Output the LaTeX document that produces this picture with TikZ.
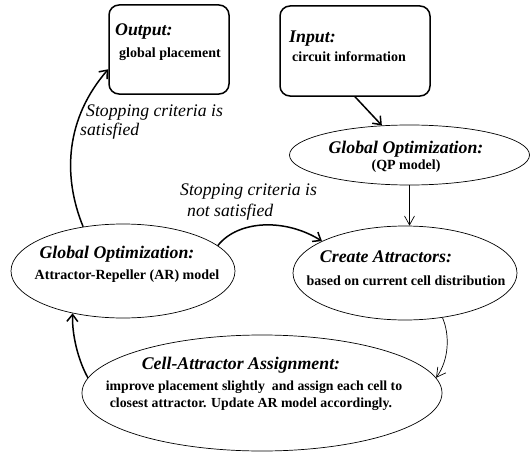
\documentclass[tikz,border=0pt]{standalone}
\usepackage{fontspec}
\setmainfont{Liberation Serif}
\usetikzlibrary{shapes.geometric,arrows.meta}
\begin{document}
\begin{tikzpicture}[x=1pt,y=-1pt,
 box/.style={draw,line width=1.5pt,rounded corners=10pt,inner sep=0},
 ell/.style={draw,ellipse,line width=0.7pt,inner sep=0},
 ttl/.style={font=\bfseries\itshape\fontsize{17.8}{19}\selectfont,inner sep=0},
 txt/.style={font=\bfseries\fontsize{14}{16}\selectfont,inner sep=0},
 celltxt/.style={font=\bfseries\fontsize{13.8}{15}\selectfont,inner sep=0},
 lbl/.style={font=\itshape\fontsize{17.7}{19}\selectfont,inner sep=0,align=left},
 bigarrow/.style={line width=1.5pt,-{Straight Barb[length=7pt,width=11pt,line width=1.5pt]}},
 smallarrow/.style={line width=0.7pt,-{Straight Barb[length=9pt,width=10pt,line width=0.7pt]}}]
\useasboundingbox (0,0) rectangle (530,452);
% boxes
\node[box,minimum width=120,minimum height=89] (out) at (169,49.5) {};
\node[box,minimum width=150,minimum height=90] (inp) at (355,51) {};
% ellipses
\node[ell,minimum width=240,minimum height=60] (qp) at (409.5,155) {};
\node[ell,minimum width=224,minimum height=94] (ca) at (405,273) {};
\node[ell,minimum width=224,minimum height=94] (ar) at (123,271) {};
\node[ell,minimum width=360,minimum height=116] (cell) at (262,393) {};
% texts
\node[ttl,anchor=west] (outT) at (115,32) {Output:};
\node[txt,anchor=west] (outB) at (119,54) {global placement};
\node[ttl,anchor=west] (inpT) at (289,39) {Input:};
\node[txt,anchor=west] (inpB) at (292,57) {circuit information};
\node[ttl] (qpT) at (406,149) {Global Optimization:};
\node[txt] (qpB) at (406,166) {(QP model)};
\node[ttl] (caT) at (386,257) {Create Attractors:};
\node[txt] (caB) at (406,281) {based on current cell distribution};
\node[ttl] (arT) at (117,254) {Global Optimization:};
\node[txt] (arB) at (127,276) {Attractor-Repeller (AR) model};
\node[ttl] (cellT) at (241,365) {Cell-Attractor Assignment:};
\node[celltxt] (cellB1) at (254,387) {improve placement slightly\ \ and assign each cell to};
\node[celltxt] (cellB2) at (251,404) {closest attractor. Update AR model accordingly.};
% labels
\node[lbl,anchor=west] (l1a) at (86,113) {Stopping criteria is};
\node[lbl,anchor=west] (l1b) at (80,131) {satisfied};
\node[lbl,anchor=west] (l2a) at (180,192) {Stopping criteria is};
\node[lbl,anchor=west] (l2b) at (187,212) {not satisfied};
% connectors
\draw[bigarrow] (inp.south) -- (qp);
\draw[smallarrow] (qp.south) -- (qp.south |- ca.north);
\draw[bigarrow] (ar.132) .. controls (62,175) and (66,118) .. (out.198);
\draw[bigarrow] (ar.15) .. controls (238,220) and (285,218) .. (ca.159);
\draw[smallarrow] (ca.-50) .. controls (450,335) and (449,360) .. (cell.5);
\draw[bigarrow] (cell.175) .. controls (78,360) and (72,335) .. (ar.220);
\end{tikzpicture}
\end{document}
